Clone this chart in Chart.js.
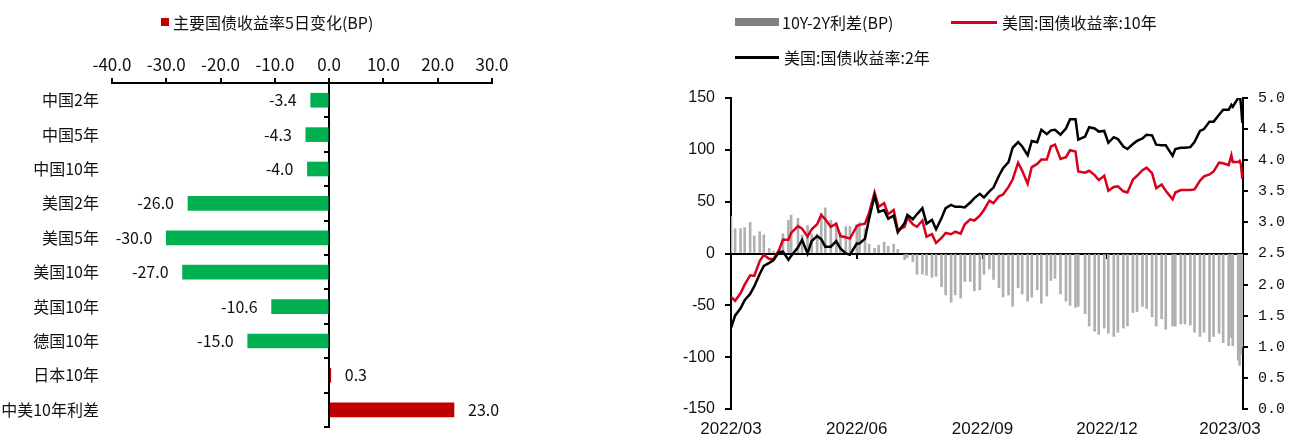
<!DOCTYPE html>
<html lang="zh-CN">
<head>
<meta charset="utf-8">
<title>主要国债收益率变化</title>
<script src="https://cdn.jsdelivr.net/npm/chart.js@4.4.1/dist/chart.umd.min.js"></script>
<style>
  html, body { margin: 0; padding: 0; background: #fff; }
  body { width: 1303px; height: 437px; position: relative; overflow: hidden;
         font-family: "Noto Sans CJK SC", sans-serif; color: #111; }
  .panel { position: absolute; top: 0; }
  #leftPanel { left: 0; width: 522px; height: 437px; }
  #rightPanel { left: 640px; width: 663px; height: 437px; }
  .legend-item { position: absolute; display: flex; align-items: center; font-size: 16px;
                 line-height: 18px; white-space: nowrap; }
  .swatch { display: inline-block; flex: none; }
</style>
</head>
<body>
<div class="panel" id="leftPanel"><canvas id="leftChart" width="522" height="437"></canvas></div>
<div class="panel" id="rightPanel"><canvas id="rightChart" width="663" height="437"></canvas></div>
<div id="legends"></div>
<script>
// ---- 5-day change of major government bond yields (bp) ----
const bondNames = ['中国2年', '中国5年', '中国10年', '美国2年', '美国5年', '美国10年',
                   '英国10年', '德国10年', '日本10年', '中美10年利差'];
const bondChange5d = [-3.4, -4.3, -4.0, -26.0, -30.0, -27.0, -10.6, -15.0, 0.3, 23.0];
const changeTicks = { min: -40, max: 30, step: 10 };

// ---- US Treasury yields (%) and 10Y-2Y spread (bp) ----
const tradeDates = [
  '2022-03-01','2022-03-04','2022-03-08','2022-03-11','2022-03-15','2022-03-18','2022-03-22','2022-03-25',
  '2022-03-29','2022-04-01','2022-04-05','2022-04-08','2022-04-12','2022-04-14','2022-04-19','2022-04-22',
  '2022-04-26','2022-04-29','2022-05-03','2022-05-06','2022-05-09','2022-05-13','2022-05-17','2022-05-20',
  '2022-05-24','2022-05-27','2022-06-01','2022-06-03','2022-06-07','2022-06-10','2022-06-14','2022-06-17',
  '2022-06-21','2022-06-24','2022-06-28','2022-07-01','2022-07-06','2022-07-08','2022-07-12','2022-07-15',
  '2022-07-19','2022-07-22','2022-07-26','2022-07-29','2022-08-02','2022-08-05','2022-08-09','2022-08-12',
  '2022-08-16','2022-08-19','2022-08-23','2022-08-26','2022-08-30','2022-09-02','2022-09-06','2022-09-09',
  '2022-09-13','2022-09-16','2022-09-20','2022-09-23','2022-09-27','2022-09-30','2022-10-04','2022-10-07',
  '2022-10-11','2022-10-14','2022-10-18','2022-10-21','2022-10-24','2022-10-28','2022-11-01','2022-11-04',
  '2022-11-08','2022-11-10','2022-11-15','2022-11-18','2022-11-22','2022-11-25','2022-11-29','2022-12-02',
  '2022-12-06','2022-12-09','2022-12-13','2022-12-16','2022-12-20','2022-12-23','2022-12-27','2022-12-30',
  '2023-01-03','2023-01-06','2023-01-10','2023-01-13','2023-01-18','2023-01-20','2023-01-24','2023-01-27',
  '2023-01-31','2023-02-03','2023-02-07','2023-02-10','2023-02-14','2023-02-17','2023-02-21','2023-02-24',
  '2023-02-28','2023-03-02','2023-03-03','2023-03-07','2023-03-08','2023-03-09','2023-03-10'
];
const us10y = [
  1.80,1.74,1.86,2.00,2.15,2.14,2.38,2.48, 2.41,2.41,2.55,2.72,2.72,2.83,2.94,2.90,
  2.77,2.89,2.97,3.12,3.05,2.93,2.98,2.78, 2.76,2.74,2.94,2.96,2.98,3.15,3.48,3.25,
  3.31,3.13,3.20,2.88,2.93,3.08,2.97,2.93, 3.03,2.77,2.81,2.67,2.75,2.83,2.81,2.85,
  2.82,2.97,3.05,3.03,3.11,3.20,3.35,3.31, 3.42,3.45,3.57,3.69,3.96,3.83,3.62,3.89,
  3.94,4.01,4.01,4.22,4.25,4.02,4.05,4.16, 4.14,3.82,3.80,3.83,3.76,3.68,3.75,3.51,
  3.57,3.58,3.50,3.48,3.69,3.75,3.84,3.88, 3.79,3.55,3.61,3.51,3.37,3.48,3.52,3.52,
  3.52,3.53,3.67,3.74,3.77,3.82,3.96,3.95, 3.92,4.08,3.97,3.97,3.99,3.93,3.70
];
const us2y = [
  1.30,1.50,1.62,1.75,1.85,1.97,2.17,2.30, 2.35,2.39,2.52,2.53,2.40,2.46,2.60,2.72,
  2.50,2.70,2.78,2.73,2.61,2.61,2.70,2.58, 2.50,2.48,2.66,2.66,2.74,3.06,3.43,3.17,
  3.20,3.06,3.11,2.84,2.99,3.12,3.05,3.13, 3.23,2.98,3.04,2.89,3.07,3.23,3.28,3.25,
  3.25,3.24,3.32,3.39,3.46,3.40,3.50,3.56, 3.75,3.87,3.97,4.20,4.29,4.22,4.08,4.31,
  4.29,4.49,4.42,4.48,4.49,4.41,4.51,4.66, 4.66,4.33,4.38,4.53,4.51,4.46,4.47,4.28,
  4.37,4.34,4.22,4.18,4.26,4.31,4.35,4.41, 4.40,4.25,4.24,4.24,4.07,4.18,4.20,4.20,
  4.21,4.29,4.47,4.50,4.62,4.62,4.73,4.81, 4.81,4.89,4.86,5.00,5.07,4.90,4.60
];
const spread10y2y = [
  36,24,24,25,30,17,21,18, 5,2,3,19,32,37,34,18,
  27,19,19,39,44,32,28,20, 26,26,28,30,24,9,5,8,
  11,7,9,4,-6,-4,-8,-20, -20,-21,-23,-22,-32,-40,-47,-40,
  -43,-27,-27,-36,-35,-20,-15,-25, -33,-42,-40,-51,-33,-39,-46,-42,
  -35,-48,-41,-26,-24,-39,-46,-50, -52,-51,-58,-70,-75,-78,-72,-77,
  -80,-76,-72,-70,-57,-56,-51,-53, -61,-70,-63,-73,-70,-70,-68,-68,
  -69,-76,-80,-76,-85,-80,-77,-86, -89,-81,-89,-103,-108,-97,-90
];
const monthTickDates = ['2022-03-01', '2022-06-01', '2022-09-01', '2022-12-01', '2023-03-01'];
const monthTickLabels = ['2022/03', '2022/06', '2022/09', '2022/12', '2023/03'];

// ---- styling ----
const TEXT = '#111';
const GREEN = '#00b050';
const DARK_RED = '#c00000';
const LINE_RED = '#d9001b';
const BAR_GRAY = '#b0b0b0';
const LEGEND_GRAY = '#808080';
const cjkFont = { family: '"Noto Sans CJK SC", sans-serif', size: 16 };

// day offset from the first trading date, used as the linear x value
const dayOf = d => (Date.parse(d) - Date.parse(tradeDates[0])) / 864e5;
const toPoints = values => tradeDates.map((d, i) => ({ x: dayOf(d), y: values[i] }));
const monthTickDays = monthTickDates.map(dayOf);
const lastDay = dayOf(tradeDates[tradeDates.length - 1]);

// keep label half-heights from shrinking the plot area vertically
const noVerticalPadding = s => { s.paddingTop = 0; s.paddingBottom = 0; };

// value labels next to each horizontal bar
const barValueLabels = {
  id: 'barValueLabels',
  afterDatasetsDraw(chart) {
    const { ctx } = chart;
    const ds = chart.data.datasets[0];
    ctx.save();
    ctx.font = `${cjkFont.size}px ${cjkFont.family}`;
    ctx.fillStyle = TEXT;
    ctx.textBaseline = 'middle';
    chart.getDatasetMeta(0).data.forEach((bar, i) => {
      const v = ds.data[i];
      const neg = v < 0;
      ctx.textAlign = neg ? 'right' : 'left';
      ctx.fillText(v.toFixed(1), bar.x + (neg ? -14 : 14), bar.y);
    });
    ctx.restore();
  }
};

const leftChart = new Chart(document.getElementById('leftChart'), {
  type: 'bar',
  data: {
    labels: bondNames,
    datasets: [{
      label: '主要国债收益率5日变化(BP)',
      data: bondChange5d,
      backgroundColor: ctx => (ctx.raw >= 0 ? DARK_RED : GREEN),
      legendColor: DARK_RED,
      barThickness: 14
    }]
  },
  options: {
    indexAxis: 'y',
    responsive: false,
    animation: false,
    layout: { padding: { top: 0, right: 30, bottom: 10, left: 0 } },
    plugins: { legend: { display: false }, tooltip: { enabled: false } },
    scales: {
      x: {
        position: 'top',
        min: changeTicks.min, max: changeTicks.max,
        ticks: { stepSize: changeTicks.step, callback: v => Number(v).toFixed(1),
                 font: { family: cjkFont.family, size: 17 }, color: TEXT, padding: 3, maxRotation: 0 },
        grid: { drawOnChartArea: false, drawTicks: true, tickLength: 5, color: '#000', lineWidth: 2 },
        border: { color: '#000', width: 2 },
        afterFit: s => { s.height = 83; }
      },
      y: {
        position: 'left',
        ticks: { font: cjkFont, color: TEXT, padding: 13 },
        grid: { display: false, drawTicks: false },
        border: { display: false },
        afterFit: s => { s.width = 112; noVerticalPadding(s); }
      },
      // vertical axis line crossing at zero, with marks between categories
      yZero: {
        type: 'category', axis: 'y', position: { x: 0 }, offset: true,
        ticks: { display: false },
        grid: { offset: true, drawOnChartArea: false, tickLength: 4, color: '#000', lineWidth: 2 },
        border: { color: '#000', width: 2 },
        afterFit: noVerticalPadding
      }
    }
  },
  plugins: [barValueLabels]
});

const monthTicks = s => { s.ticks = monthTickDays.map(v => ({ value: v })); };

const rightChart = new Chart(document.getElementById('rightChart'), {
  type: 'bar',
  data: {
    datasets: [
      { type: 'bar', label: '10Y-2Y利差(BP)', data: toPoints(spread10y2y), yAxisID: 'y',
        backgroundColor: BAR_GRAY, legendColor: LEGEND_GRAY, barThickness: 2, order: 3 },
      { type: 'line', label: '美国:国债收益率:10年', data: toPoints(us10y), yAxisID: 'y1',
        borderColor: LINE_RED, borderWidth: 2.5, pointRadius: 0, tension: 0, order: 2 },
      { type: 'line', label: '美国:国债收益率:2年', data: toPoints(us2y), yAxisID: 'y1',
        borderColor: '#000', borderWidth: 2.5, pointRadius: 0, tension: 0, order: 1 }
    ]
  },
  options: {
    responsive: false,
    animation: false,
    layout: { padding: { top: 98, right: 0, bottom: 0, left: 0 } },
    plugins: { legend: { display: false }, tooltip: { enabled: false } },
    scales: {
      x: {
        type: 'linear', position: 'bottom', min: 0, max: lastDay + 0.5, offset: false,
        afterBuildTicks: monthTicks,
        ticks: { callback: (v, i) => monthTickLabels[i], autoSkip: false, maxRotation: 0,
                 font: { family: '"Liberation Sans", Arial, sans-serif', size: 17 }, color: TEXT, padding: 10 },
        grid: { display: false, drawTicks: false, offset: false },
        border: { display: false },
        afterFit: s => { s.height = 28; }
      },
      // horizontal axis line drawn at zero on the left scale
      xZero: {
        type: 'linear', axis: 'x', position: { y: 0 }, min: 0, max: lastDay + 0.5, offset: false,
        afterBuildTicks: monthTicks,
        ticks: { display: false },
        grid: { drawOnChartArea: false, tickLength: 4, color: '#000', lineWidth: 2, offset: false },
        border: { color: '#000', width: 2 }
      },
      y: {
        position: 'left', min: -150, max: 150,
        ticks: { stepSize: 50, font: { family: '"Liberation Sans", Arial, sans-serif', size: 16 },
                 color: TEXT, padding: 10 },
        grid: { drawOnChartArea: false, tickLength: 6, color: '#000', lineWidth: 2 },
        border: { color: '#000', width: 2 },
        afterFit: s => { s.width = 91; }
      },
      y1: {
        position: 'right', min: 0, max: 5,
        ticks: { stepSize: 0.5, callback: v => Number(v).toFixed(1),
                 font: { family: '"Liberation Mono", monospace', size: 15 }, color: TEXT, padding: 10 },
        grid: { drawOnChartArea: false, tickLength: 5, color: '#000', lineWidth: 2 },
        border: { color: '#000', width: 2 },
        afterFit: s => { s.width = 60; }
      }
    }
  }
});

// HTML legends built from the dataset definitions
function addLegend(chart, slots) {
  const host = document.getElementById('legends');
  chart.data.datasets.forEach((ds, i) => {
    const slot = slots[i];
    const item = document.createElement('div');
    item.className = 'legend-item';
    item.style.left = slot.left + 'px';
    item.style.top = slot.top + 'px';
    const sw = document.createElement('span');
    sw.className = 'swatch';
    sw.style.width = slot.w + 'px';
    sw.style.height = slot.h + 'px';
    sw.style.marginRight = slot.gap + 'px';
    sw.style.background = ds.legendColor || ds.borderColor;
    const label = document.createElement('span');
    label.textContent = ds.label;
    item.appendChild(sw);
    item.appendChild(label);
    host.appendChild(item);
  });
}
addLegend(leftChart, [{ left: 161, top: 13, w: 8, h: 8, gap: 4 }]);
addLegend(rightChart, [
  { left: 735, top: 13, w: 44, h: 8, gap: 3 },
  { left: 951, top: 13, w: 46, h: 3, gap: 5 },
  { left: 735, top: 48, w: 44, h: 3, gap: 5 }
]);
</script>
</body>
</html>
